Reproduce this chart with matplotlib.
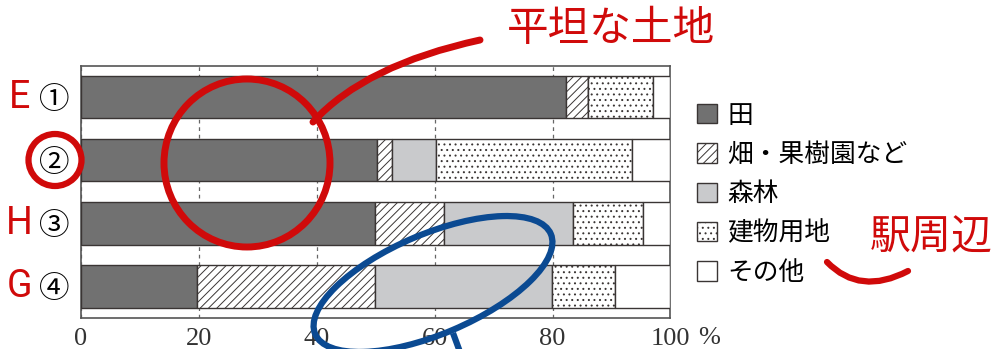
import matplotlib
matplotlib.use("Agg")
import matplotlib.pyplot as plt
from matplotlib.patches import Ellipse, PathPatch
from matplotlib.path import Path
from matplotlib.transforms import Affine2D, blended_transform_factory
import numpy as np

plt.rcParams['font.family'] = ['Noto Sans CJK JP', 'DejaVu Sans']
plt.rcParams['hatch.linewidth'] = 0.7
plt.rcParams['hatch.color'] = '#3a3534'

# land use share of each area (%)
areas = ["①", "②", "③", "④"]
area_marks = ["E", "", "H", "G"]
land_use = ["田", "畑・果樹園など", "森林", "建物用地", "その他"]
paddy = [82.3, 50.3, 49.9, 19.7]
orchard = [3.7, 2.5, 11.7, 30.2]
forest = [0.0, 7.5, 21.8, 30.0]
building = [11.0, 33.1, 11.9, 10.7]
other = [3.0, 6.6, 4.7, 9.4]
xticks = [0, 20, 40, 60, 80, 100]
xtick_labels = ["0", "20", "40", "60", "80", "100"]

EDGE = "#3a3534"
RED = "#d00a0a"
BLUE = "#0b4a92"

fig = plt.figure(figsize=(10.02, 3.49), dpi=100)
ax = fig.add_axes([0.0808, 0.0888, 0.5883, 0.7229])

series = [paddy, orchard, forest, building, other]
fills = ["#717171", "white", "#c9cacc", "white", "white"]
hatches = [None, "////", None, "...", None]

y = np.arange(len(areas))
left = np.zeros(len(areas))
for name, vals, fc, h in zip(land_use, series, fills, hatches):
    ax.barh(y, vals, left=left, height=0.67, color=fc, hatch=h,
            edgecolor=EDGE, linewidth=1.0, zorder=3, label=name)
    left += np.array(vals)

ax.set_xlim(0, 100)
ax.set_ylim(3.5, -0.5)
ax.set_xticks(xticks)
ax.set_xticklabels(xtick_labels, fontfamily="Liberation Serif", fontsize=19, color="#333333")
ax.set_yticks(y)
ax.set_yticklabels(areas, fontsize=22)
ax.tick_params(axis="x", length=0, pad=7)
ax.tick_params(axis="y", length=0, pad=8)
ax.grid(axis="x", linestyle=(0, (3, 3)), color="#666666", linewidth=0.9, zorder=1)
ax.set_axisbelow(True)
for sp in ax.spines.values():
    sp.set_color("#555555")
    sp.set_linewidth(1.2)

ax.text(106.5, -0.0355, "%", transform=blended_transform_factory(ax.transData, ax.transAxes),
        ha="center", va="top", fontfamily="Liberation Serif", fontsize=19, color="#333333")

for yi, m in zip(y, area_marks):
    ax.text(-0.104, yi, m, transform=ax.get_yaxis_transform(), color=RED, fontsize=27,
            family=["Roboto", "DejaVu Sans"], ha="center", va="center")

fig.legend(loc="upper left", bbox_to_anchor=(0.6956, 0.706), frameon=False,
           prop=dict(size=18.5), handlelength=0.78, handleheight=0.78,
           handletextpad=0.4, labelspacing=0.52, borderpad=0, borderaxespad=0)

# hand-drawn marks, in image pixels
px = Affine2D().scale(1 / 1002, -1 / 349).translate(0, 1) + fig.transFigure

fig.add_artist(Ellipse((247, 163), 166, 168, fill=False, ec=RED, lw=5, transform=px, zorder=10))
fig.add_artist(Ellipse((55, 160), 53, 52, fill=False, ec=RED, lw=4.5, transform=px, zorder=10))
fig.add_artist(PathPatch(Path([(313, 122), (365, 65), (480, 40)],
                              [Path.MOVETO, Path.CURVE3, Path.CURVE3]),
                         fill=False, ec=RED, lw=5, capstyle="round", transform=px, zorder=10))
fig.add_artist(PathPatch(Path([(827, 262), (860, 296), (908, 271)],
                              [Path.MOVETO, Path.CURVE3, Path.CURVE3]),
                         fill=False, ec=RED, lw=4.5, capstyle="round", transform=px, zorder=10))
fig.add_artist(Ellipse((433, 284), 256, 100, angle=-23, fill=False, ec=BLUE, lw=4.5,
                       transform=px, zorder=10))
fig.add_artist(PathPatch(Path([(453, 333), (460, 352)]), fill=False, ec=BLUE, lw=4.5,
                         transform=px, zorder=10))

fig.text(507, 30, "平坦な土地", transform=px, color=RED, fontsize=30, ha="left", va="center")
fig.text(870, 238, "駅周辺", transform=px, color=RED, fontsize=29.5, ha="left", va="center")

fig.savefig("out.png", dpi=100)
